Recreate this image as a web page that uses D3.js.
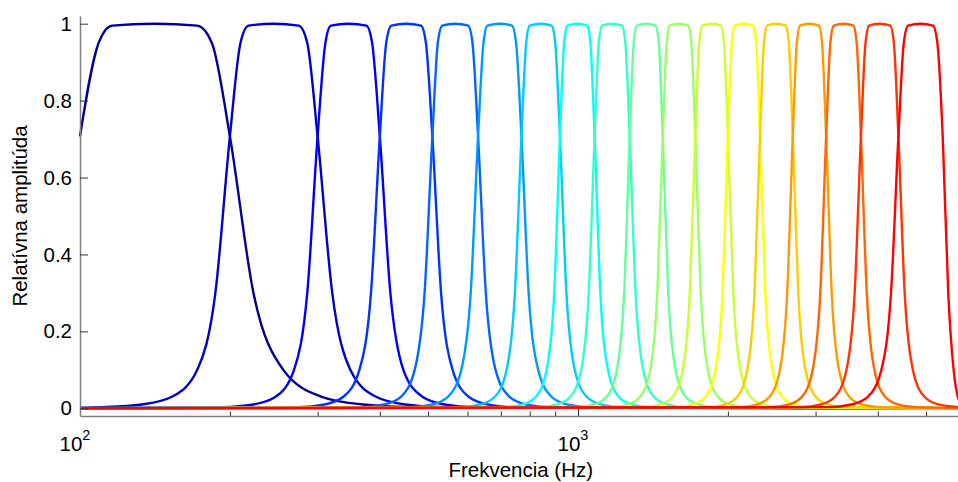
<!DOCTYPE html>
<html>
<head>
<meta charset="utf-8">
<script src="https://cdn.jsdelivr.net/npm/d3@7"></script>
<style>
  html, body { margin: 0; padding: 0; background: #fff; }
  svg { display: block; font-family: "Liberation Sans", Arial, Helvetica, sans-serif; }
</style>
</head>
<body>
<div id="chart"></div>
<script>
// amplitude levels at which each band's edges were read (low side ascending)
const levels = [0.003, 0.01, 0.03, 0.1, 0.3, 0.7071, 0.95, 0.995];

// peak (centre) frequency of each band, Hz
const peaks = [141, 245, 346, 452, 567, 696, 842, 997, 1171, 1371, 1596, 1855, 2154, 2503, 2916, 3414, 4035, 4874];

// frequency where the rising edge reaches each level (same order as levels)
const lowSide = [
  [null, null, null, null, null, 100, 109, 116],
  [111, 133, 153, 172, 187, 200, 210, 218],
  [193, 223, 247, 269, 286, 300, 311, 319],
  [274, 310, 338, 364, 384, 400, 412, 422],
  [366, 408, 441, 470, 492, 510, 523, 534],
  [459, 509, 548, 583, 609, 630, 646, 658],
  [580, 637, 681, 719, 747, 770, 787, 800],
  [712, 775, 823, 865, 896, 920, 938, 953],
  [834, 909, 965, 1015, 1051, 1080, 1101, 1119],
  [994, 1079, 1142, 1197, 1238, 1270, 1294, 1313],
  [1163, 1261, 1333, 1397, 1443, 1480, 1507, 1529],
  [1351, 1464, 1549, 1623, 1677, 1720, 1752, 1778],
  [1576, 1707, 1804, 1889, 1951, 2000, 2036, 2066],
  [1819, 1973, 2088, 2188, 2262, 2320, 2363, 2398],
  [2109, 2290, 2425, 2544, 2631, 2700, 2751, 2792],
  [2435, 2653, 2817, 2960, 3066, 3150, 3212, 3263],
  [2808, 3077, 3281, 3461, 3594, 3700, 3779, 3843],
  [3186, 3543, 3819, 4067, 4252, 4400, 4511, 4601]
];

// frequency where the falling edge passes each level (levels reversed)
const highSide = [
  [172, 184, 200, 223, 256, 306, 370, 470],
  [275, 286, 300, 321, 349, 393, 450, 539],
  [376, 386, 400, 420, 446, 487, 539, 621],
  [484, 495, 510, 531, 560, 603, 658, 744],
  [602, 614, 630, 653, 683, 729, 787, 878],
  [737, 751, 770, 796, 832, 885, 952, 1057],
  [885, 900, 920, 948, 985, 1041, 1112, 1221],
  [1043, 1059, 1080, 1109, 1149, 1207, 1281, 1396],
  [1226, 1245, 1270, 1305, 1352, 1421, 1509, 1645],
  [1431, 1453, 1480, 1518, 1570, 1646, 1743, 1891],
  [1664, 1689, 1720, 1764, 1823, 1910, 2019, 2189],
  [1935, 1964, 2000, 2051, 2120, 2221, 2350, 2547],
  [2246, 2279, 2320, 2378, 2457, 2573, 2719, 2944],
  [2612, 2651, 2700, 2769, 2863, 3001, 3175, 3443],
  [3046, 3091, 3150, 3232, 3343, 3506, 3713, 4032],
  [3572, 3628, 3700, 3801, 3937, 4138, 4392, 4786],
  [4237, 4308, 4400, 4529, 4704, 4962, 5291, 5799],
  [5162, 5268, 5400, 5540, 5680, 5790, 5900, 5970]
];

// amplitude at the ends of the axis (100 Hz and 6000 Hz)
const startAmp = [null, 0.0016, 0, 0, 0, 0, 0, 0, 0, 0, 0, 0, 0, 0, 0, 0, 0, 0];
const endAmp = [0, 0, 0, 0, 0, 0, 0, 0, 0, 0, 0, 0, 0, 0, 0, 0, 0.002, 0.002];

// jet(18)
const colors = [
  '#000099', '#0000cc', '#0000ff', '#0033ff', '#0066ff', '#0099ff',
  '#00ccff', '#00ffff', '#33ffcc', '#66ff99', '#99ff66', '#ccff33',
  '#ffff00', '#ffcc00', '#ff9900', '#ff6600', '#ff3300', '#ff0000'
];

const yTicks = [0, 0.2, 0.4, 0.6, 0.8, 1];
const xMajor = [100, 1000];
const xMinor = [200, 300, 400, 500, 600, 700, 800, 900, 2000, 3000, 4000, 5000];

const width = 958, height = 482;
const margin = { left: 80, top: 16, bottom: 66 };

const svg = d3.select('#chart').append('svg')
  .attr('width', width)
  .attr('height', height);

const x = d3.scaleLog()
  .domain([100, 6000])
  .range([margin.left, 965.5]);

const y = d3.scaleLinear()
  .domain([-0.02, 1.02])
  .range([height - margin.bottom, margin.top]);

// curves
const line = d3.line()
  .x(d => x(d[0]))
  .y(d => y(d[1]))
  .curve(d3.curveMonotoneX);

const bands = peaks.map((p, i) => {
  const pts = [];
  if (startAmp[i] !== null) pts.push([100, startAmp[i]]);
  lowSide[i].forEach((f, k) => { if (f !== null) pts.push([f, levels[k]]); });
  pts.push([p, 1]);
  highSide[i].forEach((f, k) => pts.push([f, levels[levels.length - 1 - k]]));
  if (endAmp[i] !== null) pts.push([6000, endAmp[i]]);
  return pts;
});

svg.append('g')
  .selectAll('path')
  .data(bands)
  .join('path')
  .attr('d', line)
  .attr('fill', 'none')
  .attr('stroke', (d, i) => colors[i])
  .attr('stroke-width', 2.4)
  .attr('stroke-linejoin', 'round');

// axes
const xAxisY = height - margin.bottom;

const gxMinor = svg.append('g')
  .attr('transform', `translate(0,${xAxisY})`)
  .call(d3.axisBottom(x).tickValues(xMinor).tickSize(-4.5).tickSizeOuter(0).tickFormat(''));

const gxMajor = svg.append('g')
  .attr('transform', `translate(0,${xAxisY})`)
  .call(d3.axisBottom(x).tickValues(xMajor).tickSize(-7).tickSizeOuter(0).tickFormat(''));
gxMajor.select('.domain').remove();

const gy = svg.append('g')
  .attr('transform', `translate(${margin.left},0)`)
  .call(d3.axisLeft(y).tickValues(yTicks).tickSize(-8).tickSizeOuter(0).tickPadding(8)
    .tickFormat(d => String(+d.toFixed(1))));

[gxMinor, gxMajor, gy].forEach(g => {
  g.select('.domain').attr('stroke', '#808080').attr('stroke-width', 1.5);
  g.selectAll('.tick line').attr('stroke', '#333');
});

gy.selectAll('.tick text')
  .attr('font-size', 20.5)
  .attr('font-family', '"Liberation Sans", Arial, sans-serif')
  .attr('fill', '#000');

// 10^n labels
const expLabels = svg.append('g')
  .selectAll('text')
  .data(xMajor)
  .join('text')
  .attr('x', d => x(d) - 5)
  .attr('y', 451)
  .attr('text-anchor', 'middle')
  .attr('font-size', 20.5)
  .attr('fill', '#000');
expLabels.append('tspan').text('10');
expLabels.append('tspan')
  .attr('dy', -11)
  .attr('font-size', 14.5)
  .text(d => Math.round(Math.log10(d)));

// axis titles
svg.append('text')
  .attr('x', (x.range()[0] + x.range()[1]) / 2 - 2)
  .attr('y', 477)
  .attr('text-anchor', 'middle')
  .attr('font-size', 20.5)
  .attr('fill', '#000')
  .text('Frekvencia (Hz)');

svg.append('text')
  .attr('transform', `translate(27,${(y.range()[0] + y.range()[1]) / 2}) rotate(-90)`)
  .attr('text-anchor', 'middle')
  .attr('font-size', 20.5)
  .attr('fill', '#000')
  .text('Relatívna amplitúda');
</script>
</body>
</html>
